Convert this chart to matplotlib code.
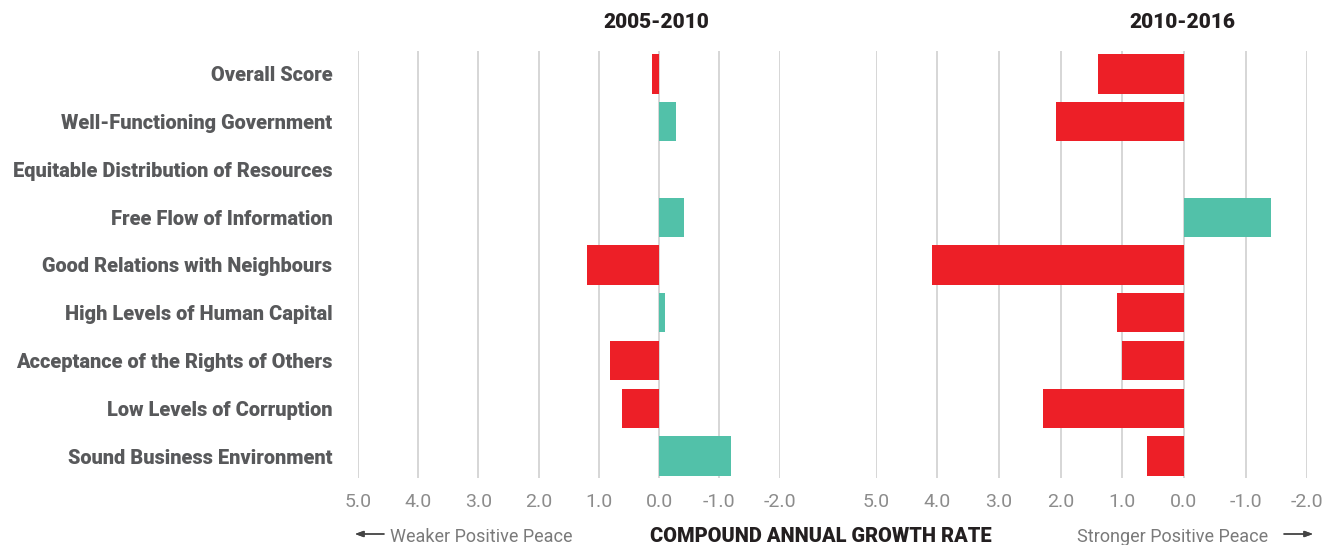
import numpy as np
import matplotlib.pyplot as plt

# data (positive = weaker, drawn to the left)
categories = ['Overall Score', 'Well-Functioning Government',
              'Equitable Distribution of Resources', 'Free Flow of Information',
              'Good Relations with Neighbours', 'High Levels of Human Capital',
              'Acceptance of the Rights of Others', 'Low Levels of Corruption',
              'Sound Business Environment']
vals_2005_2010 = [0.12, -0.28, 0.0, -0.42, 1.19, -0.09, 0.82, 0.62, -1.20]
vals_2010_2016 = [1.40, 2.08, 0.0, -1.41, 4.08, 1.08, 1.00, 2.28, 0.60]
ticks = [5, 4, 3, 2, 1, 0, -1, -2]
tick_labels = ['5.0', '4.0', '3.0', '2.0', '1.0', '0.0', '-1.0', '-2.0']

RED = '#ED1F27'
TEAL = '#52C1A9'
LABEL = '#58595B'
TICK = '#8C8C8C'

plt.rcParams['font.family'] = ['Roboto', 'DejaVu Sans']

W, H = 1336, 545
fig = plt.figure(figsize=(W / 100, H / 100), dpi=100)

def px(x0, y0, x1, y1):
    return [x0 / W, 1 - y1 / H, (x1 - x0) / W, (y1 - y0) / H]

ax1 = fig.add_axes(px(357.7, 51, 779.7, 478))
ax2 = fig.add_axes(px(875.7, 51, 1307.3, 478))

y = np.arange(len(categories))
for ax, vals, title, tx in [(ax1, vals_2005_2010, '2005-2010', 656),
                            (ax2, vals_2010_2016, '2010-2016', 1182)]:
    colors = [RED if v > 0 else TEAL for v in vals]
    ax.barh(y, vals, height=0.82, color=colors, zorder=2)
    ax.set_xlim(5, -2)
    ax.set_ylim(8.46, -0.48)
    ax.set_xticks(ticks)
    ax.set_xticklabels(tick_labels)
    ax.set_yticks([])
    for t in ticks:
        ax.axvline(t, color='#CCCCCC', lw=1.1, zorder=1)
    for s in ax.spines.values():
        s.set_visible(False)
    ax.tick_params(axis='x', length=0, pad=11, labelsize=14, labelcolor=TICK)
    fig.text(tx / W, 1 - 21 / H, title, ha='center', va='center_baseline',
             fontsize=15, fontweight='black', color='#231F20')

for i, c in enumerate(categories):
    ax1.text(-0.06, i, c, transform=ax1.get_yaxis_transform(), ha='right',
             va='center_baseline', fontsize=14.4, fontweight='black', color=LABEL)

yb = 1 - 535 / H
fig.text(390 / W, yb, 'Weaker Positive Peace', ha='left', va='center_baseline',
         fontsize=13, color='#7A7A7A')
fig.text(821 / W, yb, 'COMPOUND ANNUAL GROWTH RATE', ha='center',
         va='center_baseline', fontsize=14.4, fontweight='black', color='#231F20')
fig.text(1268 / W, yb, 'Stronger Positive Peace', ha='right',
         va='center_baseline', fontsize=13, color='#7A7A7A')

arrow = dict(arrowstyle='-|>,head_length=0.5,head_width=0.18', color='#444444',
             lw=1, shrinkA=0, shrinkB=0)
fig.add_artist(plt.annotate('', xy=(355 / W, 1 - 534 / H), xytext=(384 / W, 1 - 534 / H),
                            xycoords='figure fraction', arrowprops=arrow))
fig.add_artist(plt.annotate('', xy=(1313 / W, 1 - 534 / H), xytext=(1284 / W, 1 - 534 / H),
                            xycoords='figure fraction', arrowprops=arrow))

fig.savefig('out.png', dpi=100, facecolor='white')
